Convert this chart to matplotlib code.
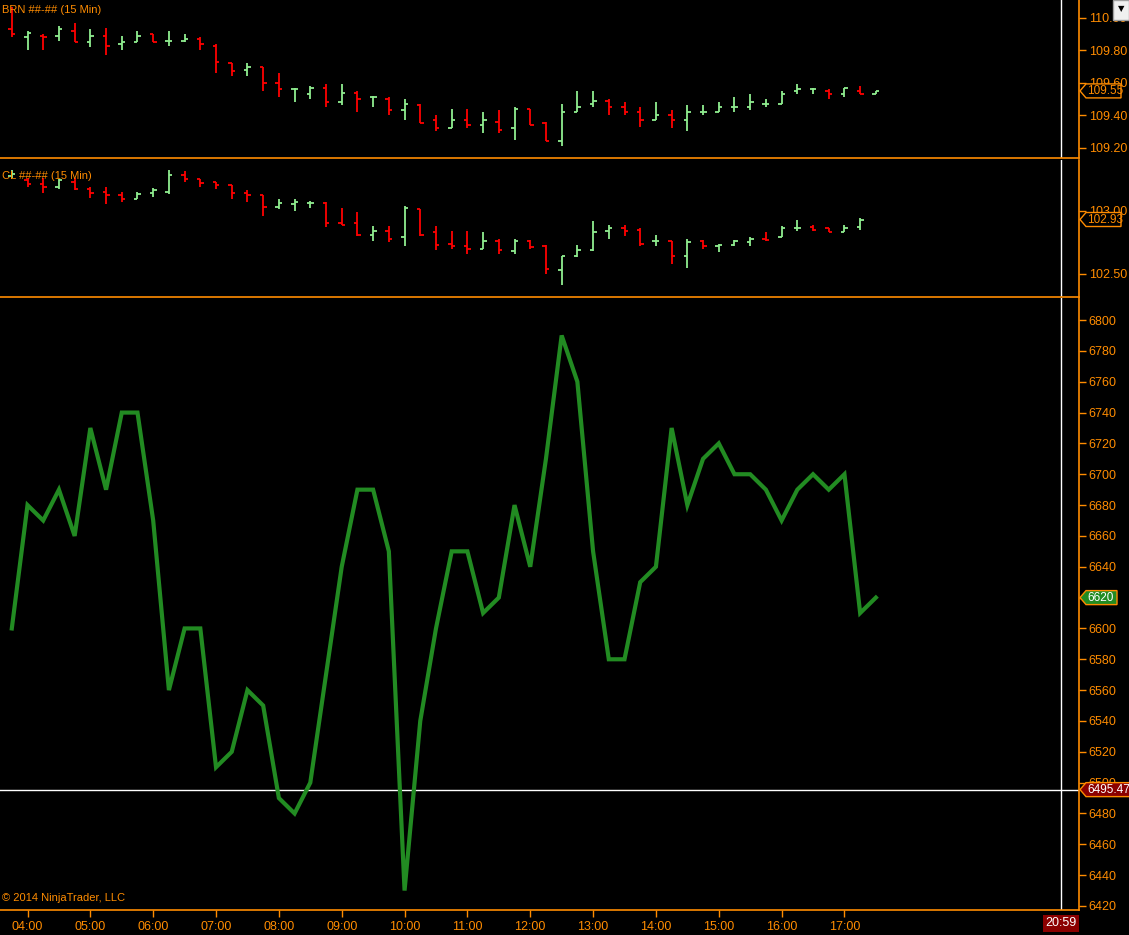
import matplotlib.pyplot as plt
from matplotlib.patches import Polygon, Rectangle
from matplotlib.transforms import IdentityTransform

plt.rcParams['font.family'] = ['Liberation Sans', 'DejaVu Sans']

ORANGE = '#FF8C00'
UP = '#90EE90'
DOWN = '#FF0000'
LINE = '#228B22'

# BRN 15 min bars, 03:45 .. 17:30
brn_open = [109.93, 109.88, 109.89, 109.89, 109.92, 109.85, 109.89, 109.84, 109.85, 109.90,
            109.86, 109.86, 109.87, 109.83, 109.72, 109.68, 109.70, 109.60, 109.56, 109.53,
            109.57, 109.48, 109.54, 109.51, 109.50, 109.43, 109.46, 109.37, 109.32, 109.37,
            109.34, 109.36, 109.32, 109.44, 109.35, 109.24, 109.42, 109.47, 109.49, 109.45,
            109.42, 109.37, 109.40, 109.37, 109.42, 109.42, 109.45, 109.45, 109.47, 109.47,
            109.55, 109.56, 109.55, 109.53, 109.55, 109.53]
brn_high = [110.07, 109.92, 109.90, 109.95, 109.97, 109.93, 109.94, 109.89, 109.92, 109.90,
            109.92, 109.90, 109.88, 109.84, 109.72, 109.72, 109.70, 109.66, 109.57, 109.58,
            109.59, 109.59, 109.55, 109.52, 109.51, 109.50, 109.47, 109.40, 109.44, 109.44,
            109.42, 109.43, 109.45, 109.44, 109.36, 109.47, 109.55, 109.55, 109.50, 109.48,
            109.45, 109.48, 109.43, 109.46, 109.46, 109.48, 109.51, 109.53, 109.50, 109.55,
            109.59, 109.57, 109.56, 109.57, 109.58, 109.55]
brn_low = [109.88, 109.80, 109.80, 109.86, 109.85, 109.82, 109.77, 109.80, 109.85, 109.85,
           109.83, 109.85, 109.80, 109.66, 109.64, 109.64, 109.55, 109.51, 109.48, 109.50,
           109.45, 109.46, 109.42, 109.45, 109.40, 109.37, 109.35, 109.30, 109.32, 109.32,
           109.29, 109.29, 109.25, 109.34, 109.24, 109.21, 109.42, 109.45, 109.40, 109.40,
           109.33, 109.37, 109.32, 109.30, 109.40, 109.42, 109.42, 109.43, 109.45, 109.47,
           109.53, 109.53, 109.50, 109.51, 109.53, 109.53]
brn_close = [109.90, 109.91, 109.88, 109.93, 109.85, 109.89, 109.83, 109.85, 109.89, 109.85,
             109.86, 109.87, 109.84, 109.73, 109.67, 109.70, 109.60, 109.56, 109.56, 109.57,
             109.48, 109.54, 109.50, 109.51, 109.43, 109.47, 109.35, 109.32, 109.37, 109.34,
             109.37, 109.31, 109.44, 109.34, 109.24, 109.42, 109.45, 109.49, 109.45, 109.42,
             109.37, 109.40, 109.37, 109.42, 109.42, 109.45, 109.45, 109.48, 109.47, 109.53,
             109.56, 109.56, 109.53, 109.57, 109.53, 109.55]

# CL 15 min bars, 03:45 .. 17:15
cl_open = [103.27, 103.24, 103.21, 103.19, 103.23, 103.17, 103.15, 103.12, 103.09, 103.14,
           103.15, 103.28, 103.25, 103.23, 103.20, 103.14, 103.12, 103.03, 103.05, 103.06,
           103.06, 102.90, 102.90, 102.81, 102.84, 102.79, 103.01, 102.83, 102.74, 102.72,
           102.70, 102.76, 102.68, 102.76, 102.72, 102.53, 102.64, 102.69, 102.84, 102.86,
           102.85, 102.76, 102.76, 102.64, 102.76, 102.72, 102.73, 102.75, 102.78, 102.79,
           102.86, 102.87, 102.86, 102.83, 102.87]
cl_high = [103.32, 103.26, 103.26, 103.25, 103.26, 103.19, 103.19, 103.15, 103.15, 103.18,
           103.32, 103.31, 103.25, 103.23, 103.20, 103.16, 103.12, 103.09, 103.09, 103.08,
           103.07, 103.02, 102.99, 102.88, 102.88, 103.04, 103.01, 102.88, 102.84, 102.84,
           102.83, 102.78, 102.78, 102.77, 102.73, 102.64, 102.73, 102.92, 102.89, 102.89,
           102.86, 102.81, 102.76, 102.78, 102.77, 102.74, 102.77, 102.79, 102.83, 102.88,
           102.93, 102.89, 102.86, 102.89, 102.94]
cl_low = [103.26, 103.19, 103.14, 103.17, 103.16, 103.10, 103.05, 103.07, 103.09, 103.11,
          103.13, 103.23, 103.19, 103.17, 103.09, 103.07, 102.96, 103.01, 103.00, 103.02,
          102.87, 102.89, 102.80, 102.76, 102.75, 102.72, 102.80, 102.69, 102.70, 102.66,
          102.70, 102.66, 102.66, 102.70, 102.50, 102.41, 102.63, 102.68, 102.78, 102.80,
          102.72, 102.72, 102.58, 102.55, 102.70, 102.67, 102.72, 102.72, 102.76, 102.79,
          102.84, 102.84, 102.83, 102.83, 102.85]
cl_close = [103.29, 103.21, 103.19, 103.24, 103.17, 103.14, 103.12, 103.09, 103.13, 103.16,
            103.28, 103.25, 103.22, 103.20, 103.14, 103.12, 103.03, 103.06, 103.07, 103.06,
            102.90, 102.89, 102.81, 102.84, 102.78, 103.02, 102.81, 102.73, 102.72, 102.70,
            102.76, 102.69, 102.76, 102.71, 102.54, 102.64, 102.69, 102.83, 102.86, 102.84,
            102.74, 102.76, 102.64, 102.75, 102.72, 102.73, 102.76, 102.78, 102.77, 102.86,
            102.86, 102.85, 102.83, 102.86, 102.93]

# spread indicator
spread = [6600, 6680, 6670, 6690, 6660, 6730, 6690, 6740, 6740, 6670,
          6560, 6600, 6600, 6510, 6520, 6560, 6550, 6490, 6480, 6500,
          6570, 6640, 6690, 6690, 6650, 6430, 6540, 6600, 6650, 6650,
          6610, 6620, 6680, 6640, 6710, 6790, 6760, 6650, 6580, 6580,
          6630, 6640, 6730, 6680, 6710, 6720, 6700, 6700, 6690, 6670,
          6690, 6700, 6690, 6700, 6610, 6620]

time_labels = ['04:00', '05:00', '06:00', '07:00', '08:00', '09:00', '10:00',
               '11:00', '12:00', '13:00', '14:00', '15:00', '16:00', '17:00']
cross_bar = 66.8
cross_price = 6495.47

W, H = 1129, 935
fig = plt.figure(figsize=(W / 100, H / 100), dpi=100, facecolor='black')


def panel(top, bottom):
    ax = fig.add_axes([0, 1 - bottom / H, 1079 / W, (bottom - top) / H])
    ax.set_facecolor('black')
    for s in ['top', 'left']:
        ax.spines[s].set_visible(False)
    ax.spines['bottom'].set_color(ORANGE)
    ax.spines['right'].set_color(ORANGE)
    ax.spines['bottom'].set_linewidth(1.2)
    ax.spines['right'].set_linewidth(1.2)
    ax.yaxis.tick_right()
    ax.tick_params(axis='y', colors=ORANGE, labelcolor=ORANGE, labelsize=9,
                   length=5, width=1, pad=2)
    ax.set_xlim(-0.751, 67.93)
    ax.axvline(cross_bar, color='white', lw=1, zorder=1)
    return ax


def ohlc(ax, o, h, l, c):
    xs = list(range(len(o)))
    cols = [UP if c[i] >= o[i] else DOWN for i in xs]
    ax.vlines(xs, l, h, colors=cols, lw=1.3, zorder=3)
    ax.hlines(o, [x - 0.22 for x in xs], xs, colors=cols, lw=1.3, zorder=3)
    ax.hlines(c, xs, [x + 0.22 for x in xs], colors=cols, lw=1.3, zorder=3)


def price_tag(ax, value, label, face, edge, tc, width):
    x0 = ax.transAxes.transform((1, 0))[0]
    y0 = ax.transData.transform((0, value))[1]
    pts = [(x0 + 1, y0), (x0 + 7, y0 + 7), (x0 + 7 + width, y0 + 7),
           (x0 + 7 + width, y0 - 7), (x0 + 7, y0 - 7)]
    fig.add_artist(Polygon(pts, closed=True, transform=IdentityTransform(),
                           facecolor=face, edgecolor=edge, lw=1, zorder=10))
    fig.text(x0 + 8, y0, label, transform=IdentityTransform(), color=tc,
             fontsize=8.5, va='center', ha='left', zorder=11)


# top panel: BRN
ax1 = panel(0, 158)
ohlc(ax1, brn_open, brn_high, brn_low, brn_close)
ax1.set_ylim(109.136, 110.111)
ax1.set_yticks([109.2, 109.4, 109.6, 109.8, 110.0])
ax1.set_yticklabels(['%.2f' % v for v in [109.2, 109.4, 109.6, 109.8, 110.0]])
ax1.set_xticks([])
ax1.text(0.002, 0.935, 'BRN ##-## (15 Min)', transform=ax1.transAxes,
         color=ORANGE, fontsize=8, va='center', zorder=5)

# middle panel: CL
ax2 = panel(160, 297)
ohlc(ax2, cl_open, cl_high, cl_low, cl_close)
ax2.set_ylim(102.318, 103.40)
ax2.set_yticks([102.5, 103.0])
ax2.set_yticklabels(['102.50', '103.00'])
ax2.set_xticks([])
ax2.text(0.002, 0.88, 'CL ##-## (15 Min)', transform=ax2.transAxes,
         color=ORANGE, fontsize=8, va='center', zorder=5)

# bottom panel: spread
ax3 = panel(298, 910)
ax3.plot(range(len(spread)), spread, color=LINE, lw=3, zorder=3,
         solid_joinstyle='miter')
ax3.set_ylim(6417.4, 6814.3)
ax3.set_yticks(range(6420, 6801, 20))
ax3.set_xticks([1 + 4 * i for i in range(len(time_labels))])
ax3.set_xticklabels(time_labels)
ax3.tick_params(axis='x', colors=ORANGE, labelcolor=ORANGE, labelsize=9,
                length=5, width=1, pad=3)
ax3.axhline(cross_price, color='white', lw=1, zorder=1)
ax3.text(0.002, 0.012, '\u00a9 2014 NinjaTrader, LLC', transform=ax3.transAxes,
         color=ORANGE, fontsize=8, va='bottom', zorder=5)

# price markers on the axis
price_tag(ax1, brn_close[-1], '%.2f' % brn_close[-1], 'black', ORANGE, ORANGE, 35)
price_tag(ax2, cl_close[-1], '%.2f' % cl_close[-1], 'black', ORANGE, ORANGE, 35)
price_tag(ax3, spread[-1], '%d' % spread[-1], LINE, ORANGE, 'white', 31)
price_tag(ax3, cross_price, '%.2f' % cross_price, '#8B0000', ORANGE, 'white', 48)

# crosshair time tag
xc = ax3.transData.transform((cross_bar, 0))[0]
fig.text(xc, 935 - 923, '20:59', transform=IdentityTransform(), color='white',
         fontsize=9, ha='center', va='center', zorder=11,
         bbox=dict(boxstyle='square,pad=0.2', facecolor='#8B0000', edgecolor='none'))

# small dropdown button, top right
fig.add_artist(Rectangle((1113, 935 - 20), 16, 20, transform=IdentityTransform(),
                         facecolor='#F0F0F0', edgecolor='#A0A0A0', lw=1, zorder=12))
fig.text(1121, 935 - 9, '\u25bc', transform=IdentityTransform(), color='black',
         fontsize=6, ha='center', va='center', zorder=13, family='DejaVu Sans')

fig.savefig('out.png', dpi=100, facecolor='black')
